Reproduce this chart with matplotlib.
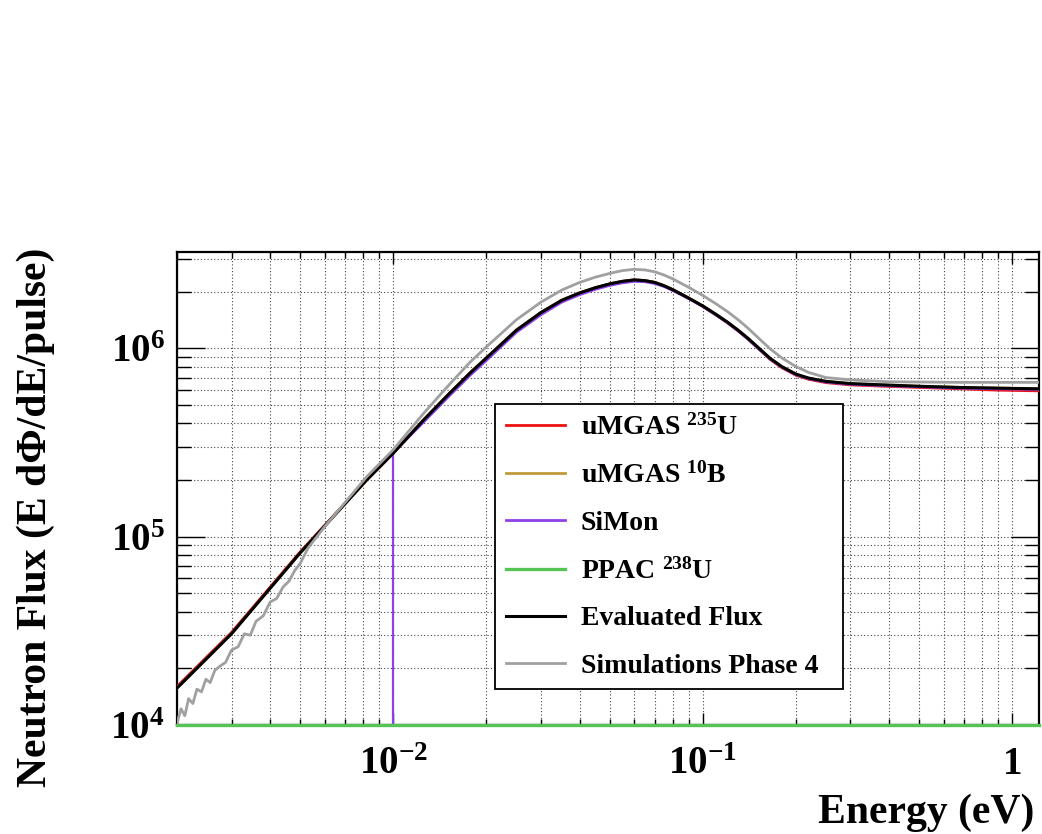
import numpy as np
import matplotlib
matplotlib.use("Agg")
import matplotlib.pyplot as plt
from matplotlib.ticker import FixedLocator, LogLocator, FuncFormatter, NullFormatter

plt.rcParams['font.family'] = ['Liberation Serif', 'DejaVu Serif']
plt.rcParams['font.weight'] = 'bold'
plt.rcParams['mathtext.fontset'] = 'custom'
plt.rcParams['mathtext.rm'] = 'Liberation Serif:bold'
plt.rcParams['mathtext.it'] = 'Liberation Serif:italic:bold'
plt.rcParams['mathtext.bf'] = 'Liberation Serif:bold'
plt.rcParams['mathtext.default'] = 'rm'

# ---- data: neutron energy (eV) and flux E dPhi/dE per pulse ----
energy_grid = [0.002, 0.003, 0.005, 0.0082, 0.01, 0.0125, 0.015, 0.0177, 0.02, 0.025,
               0.03, 0.035, 0.04, 0.045, 0.05, 0.055, 0.06, 0.065, 0.07, 0.075,
               0.08, 0.09, 0.1, 0.11, 0.12, 0.13, 0.14, 0.15, 0.165, 0.18, 0.2,
               0.22, 0.25, 0.3, 0.4, 0.505, 0.68, 0.9, 1.22]

flux_eval = [1.57e4, 3.05e4, 8.2e4, 2.0e5, 2.78e5, 4.15e5, 5.65e5, 7.4e5, 8.9e5, 1.25e6,
             1.55e6, 1.8e6, 1.97e6, 2.1e6, 2.2e6, 2.27e6, 2.31e6, 2.29e6, 2.24e6, 2.15e6,
             2.05e6, 1.85e6, 1.68e6, 1.52e6, 1.38e6, 1.25e6, 1.13e6, 1.02e6, 8.85e5, 8.0e5, 7.3e5,
             6.95e5, 6.68e5, 6.5e5, 6.38e5, 6.29e5, 6.2e5, 6.15e5, 6.1e5]

flux_u235 = [1.6e4, 3.1e4, 8.3e4, 2.0e5, 2.78e5, 4.15e5, 5.65e5, 7.4e5, 8.9e5, 1.25e6,
             1.55e6, 1.8e6, 1.97e6, 2.1e6, 2.2e6, 2.27e6, 2.31e6, 2.29e6, 2.24e6, 2.15e6,
             2.05e6, 1.85e6, 1.67e6, 1.51e6, 1.37e6, 1.24e6, 1.12e6, 1.01e6, 8.75e5, 7.9e5, 7.2e5,
             6.85e5, 6.58e5, 6.4e5, 6.28e5, 6.2e5, 6.1e5, 6.0e5, 5.95e5]

flux_b10 = [1.57e4, 3.05e4, 8.2e4, 2.0e5, 2.78e5, 4.15e5, 5.65e5, 7.4e5, 8.9e5, 1.25e6,
            1.55e6, 1.8e6, 1.97e6, 2.1e6, 2.2e6, 2.27e6, 2.31e6, 2.29e6, 2.24e6, 2.15e6,
            2.05e6, 1.85e6, 1.68e6, 1.52e6, 1.38e6, 1.25e6, 1.13e6, 1.02e6, 8.85e5, 8.0e5, 7.3e5,
            6.95e5, 6.68e5, 6.5e5, 6.38e5, 6.29e5, 6.2e5, 6.15e5, 6.1e5]

energy_simon = [0.01, 0.0125, 0.015, 0.0177, 0.02, 0.025, 0.03, 0.035, 0.04, 0.045,
                0.05, 0.055, 0.06, 0.065, 0.07, 0.075, 0.08, 0.09, 0.1, 0.11, 0.12,
                0.13, 0.14, 0.15, 0.165, 0.18, 0.2, 0.22, 0.25, 0.3, 0.4, 0.505,
                0.68, 0.9, 1.22]
flux_simon = [2.8e5, 4.05e5, 5.5e5, 7.2e5, 8.65e5, 1.22e6, 1.51e6, 1.76e6, 1.93e6, 2.06e6,
              2.16e6, 2.23e6, 2.27e6, 2.26e6, 2.21e6, 2.13e6, 2.03e6, 1.84e6, 1.67e6, 1.51e6,
              1.37e6, 1.24e6, 1.12e6, 1.01e6, 8.8e5, 7.95e5, 7.25e5, 6.9e5, 6.63e5, 6.45e5,
              6.33e5, 6.25e5, 6.15e5, 6.1e5, 6.05e5]

energy_ppac = [0.002, 1.22]
flux_ppac = [0.0, 0.0]

energy_sim = [0.002, 0.00206, 0.00212, 0.00218, 0.00225, 0.00232, 0.0024, 0.00248,
              0.00256, 0.00265, 0.00275, 0.00287, 0.003, 0.00315, 0.0033, 0.00345,
              0.0036, 0.0038, 0.004, 0.0042, 0.0044, 0.0046, 0.0048, 0.005, 0.0053,
              0.006, 0.0082, 0.01, 0.0125, 0.015, 0.0177, 0.02, 0.025, 0.03, 0.035,
              0.04, 0.045, 0.05, 0.055, 0.06, 0.065, 0.07, 0.075, 0.08, 0.09, 0.1,
              0.11, 0.12, 0.13, 0.14, 0.15, 0.165, 0.18, 0.2, 0.22, 0.25, 0.3, 0.4,
              0.68, 1.22]
flux_sim = [1.02e4, 1.22e4, 1.12e4, 1.38e4, 1.3e4, 1.55e4, 1.5e4, 1.75e4,
            1.68e4, 1.95e4, 2.05e4, 2.15e4, 2.5e4, 2.6e4, 3.05e4, 3.0e4,
            3.55e4, 3.8e4, 4.5e4, 4.7e4, 5.4e4, 5.8e4, 6.6e4, 7.2e4, 8.7e4,
            1.13e5, 2.08e5, 2.9e5, 4.5e5, 6.3e5, 8.45e5, 1.02e6, 1.42e6, 1.76e6, 2.04e6,
            2.24e6, 2.39e6, 2.5e6, 2.59e6, 2.63e6, 2.61e6, 2.55e6, 2.45e6, 2.34e6, 2.11e6, 1.91e6,
            1.73e6, 1.57e6, 1.42e6, 1.28e6, 1.15e6, 9.95e5, 8.9e5, 8.0e5, 7.45e5, 7.0e5, 6.8e5, 6.65e5,
            6.6e5, 6.6e5]

series_labels = [r'uMGAS $^{235}$U', r'uMGAS $^{10}$B', 'SiMon', r'PPAC $^{238}$U',
                 'Evaluated Flux', 'Simulations Phase 4']
series_colors = ['#ee1111', '#c09a3a', '#9040e8', '#55c455', '#000000', '#a0a0a0']

x_ticks = [0.01, 0.1, 1.0]
x_ticklabels = [r'$10^{-2}$', r'$10^{-1}$', '1']
y_ticks = [1e4, 1e5, 1e6]
y_ticklabels = [r'$10^{4}$', r'$10^{5}$', r'$10^{6}$']

x_range = (0.002, 1.22)
y_range = (1e4, 3.25e6)


def tick_text(ticks, labels):
    table = dict(zip(ticks, labels))

    def fmt(v, pos):
        nearest = min(ticks, key=lambda t: abs(np.log10(t) - np.log10(v)))
        return table[nearest]
    return FuncFormatter(fmt)


# ---- figure ----
fig = plt.figure(figsize=(10.42, 8.34), dpi=100)
ax = fig.add_axes([0.16987, 0.13070, 0.82726, 0.56715])
ax.set_xscale('log')
ax.set_yscale('log')
ax.set_xlim(*x_range)
ax.set_ylim(*y_range)

lw = 2.0
h_u235, = ax.plot(energy_grid, flux_u235, color=series_colors[0], lw=lw, label=series_labels[0], zorder=3)
h_b10, = ax.plot(energy_grid, flux_b10, color=series_colors[1], lw=lw, label=series_labels[1], zorder=3.1)
h_simon, = ax.plot(energy_simon, flux_simon, color=series_colors[2], lw=lw, label=series_labels[2], zorder=3.2)
# histogram edge of SiMon rising from the empty bins below its threshold
ax.vlines(energy_simon[0], y_range[0], flux_simon[0], color=series_colors[2], lw=1.6, zorder=3.2)
h_ppac, = ax.plot(energy_ppac, np.clip(flux_ppac, y_range[0], None), color=series_colors[3],
                  lw=2.4, label=series_labels[3], zorder=3.3, clip_on=False)
h_eval, = ax.plot(energy_grid, flux_eval, color=series_colors[4], lw=2.2, label=series_labels[4], zorder=3.4)
h_sim, = ax.plot(energy_sim, flux_sim, color=series_colors[5], lw=lw, label=series_labels[5], zorder=3.5)

# ---- axes styling ----
ax.xaxis.set_major_locator(FixedLocator(x_ticks))
ax.xaxis.set_major_formatter(tick_text(x_ticks, x_ticklabels))
ax.xaxis.set_minor_locator(LogLocator(base=10, subs=np.arange(2, 10)))
ax.xaxis.set_minor_formatter(NullFormatter())
ax.yaxis.set_major_locator(FixedLocator(y_ticks))
ax.yaxis.set_major_formatter(tick_text(y_ticks, y_ticklabels))
ax.yaxis.set_minor_locator(LogLocator(base=10, subs=np.arange(2, 10)))
ax.yaxis.set_minor_formatter(NullFormatter())

ax.tick_params(which='both', direction='in', top=True, right=True, width=1.0, color='black')
ax.tick_params(axis='x', which='major', length=8.6, pad=15, labelsize=28)
ax.tick_params(axis='x', which='minor', length=4.5)
ax.tick_params(axis='y', which='major', length=20, pad=9, labelsize=28)
ax.tick_params(axis='y', which='minor', length=10)

ax.grid(True, which='both', linestyle=(0, (1, 2)), color='#444444', linewidth=0.8)
ax.set_axisbelow(True)
for s in ax.spines.values():
    s.set_linewidth(1.6)

# axis titles
fig.text(0.993, 0.013, 'Energy (eV)', ha='right', va='baseline', fontsize=30, fontweight='bold')
fig.text(0.034, 0.703, 'Neutron Flux (E dΦ/dE/pulse)', rotation=90, ha='center', va='top',
         fontsize=30, fontweight='bold')

# ---- legend ----
leg = ax.legend(handles=[h_u235, h_b10, h_simon, h_ppac, h_eval, h_sim],
                loc='upper left', bbox_to_anchor=(0.369, 0.679, 0.404, 0.0), mode='expand',
                borderaxespad=0, fontsize=20, handlelength=2.15, handletextpad=0.55,
                labelspacing=0.78, borderpad=0.38, fancybox=False, framealpha=1,
                edgecolor='black')
leg.get_frame().set_linewidth(1.3)
leg.set_zorder(5)

fig.savefig('out.png', dpi=100, facecolor='white')
